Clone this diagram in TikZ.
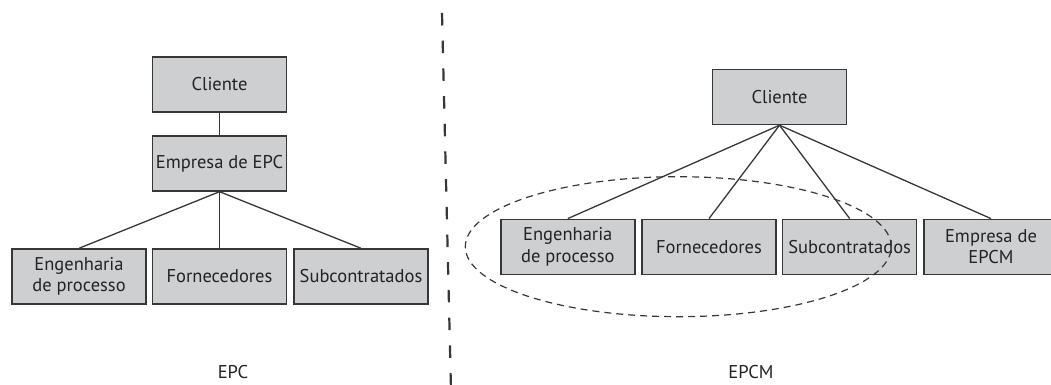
\documentclass[tikz,border=0pt]{standalone}
\usepackage{fontspec}
\setmainfont{PT Sans}
\usetikzlibrary{shapes.geometric}
\definecolor{boxfill}{RGB}{206,207,209}
\definecolor{ink}{RGB}{55,55,55}
\definecolor{textink}{RGB}{35,35,35}
\tikzset{
  box/.style={draw=ink, line width=1.4pt, fill=boxfill, text=textink,
    minimum width=134pt, minimum height=55pt, inner sep=2pt, align=center,
    font=\fontsize{18.5}{21.5}\selectfont},
  link/.style={draw=ink, line width=1.3pt},
  lbl/.style={text=textink, font=\fontsize{18.5}{21.5}\selectfont}
}
\begin{document}
\begin{tikzpicture}[x=1pt,y=-1pt]
\useasboundingbox (0,0) rectangle (1051,385);
\clip (0,0) rectangle (1051,385);
% left: EPC
\node[box] (lc) at (219.5,84.5) {Cliente};
\node[box] (le) at (219.5,163.5) {Empresa de EPC};
\node[box] (l1) at (79,276.5) {Engenharia\\de processo};
\node[box] (l2) at (219.5,276.5) {Fornecedores};
\node[box] (l3) at (361,276.5) {Subcontratados};
\draw[link] (lc.south) -- (le.north);
\draw[link] (le.south) -- (l1.north);
\draw[link] (le.south) -- (l2.north);
\draw[link] (le.south) -- (l3.north);
\node[lbl] (epc) at (233,372) {EPC};
% divider
\coordinate (dtop) at (442,13);
\coordinate (dbot) at (451,390);
\draw[ink, line width=2.2pt, dash pattern=on 12.5pt off 15.2pt] (dtop) -- (dbot);
% right: EPCM
\node[box] (rc) at (779.5,97) {Cliente};
\node[box] (r1) at (567.8,246.8) {Engenharia\\de processo};
\node[box] (r2) at (709,246.8) {Fornecedores};
\node[box] (r3) at (849.7,246.8) {Subcontratados};
\node[box] (r4) at (991,246.8) {Empresa de\\EPCM};
\draw[link] (rc.south) -- (r1.north);
\draw[link] (rc.south) -- (r2.north);
\draw[link] (rc.south) -- (r3.north);
\draw[link] (rc.south) -- (r4.north);
\node[draw=ink, line width=1.2pt, dash pattern=on 7pt off 5pt, ellipse, minimum width=426pt, minimum height=140pt, inner sep=0pt] (oval) at (678.3,246.7) {};
\node[lbl] (epcm) at (751,372) {EPCM};
\end{tikzpicture}
\end{document}
